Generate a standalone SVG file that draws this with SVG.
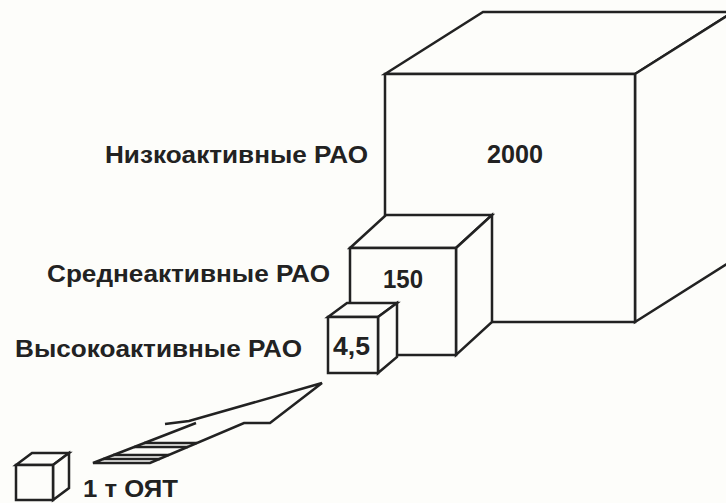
<svg xmlns="http://www.w3.org/2000/svg" width="726" height="503" viewBox="0 0 726 503">
<style>
.bg{fill:#fdfdfa}
.face{fill:#fdfdfa;stroke:#222;stroke-width:2.5;stroke-linejoin:miter}
.ln{fill:none;stroke:#222;stroke-width:2.5;stroke-linecap:butt;stroke-linejoin:miter}
.lbl{font-family:"Liberation Sans",Arial,sans-serif;font-weight:bold;font-size:23px;fill:#222}
.num{font-family:"Liberation Sans",Arial,sans-serif;font-weight:bold;font-size:25px;fill:#222}
</style>
<rect class="bg" x="0" y="0" width="726" height="503"/>
<g id="cube-low">
  <polygon class="face" points="385,74 483,12 733,12 635,74"/>
  <polygon class="face" points="635,74 733,12 733,260 635,322"/>
  <rect class="face" x="385" y="74" width="250" height="248"/>
  <text class="num" x="487" y="163" textLength="56" lengthAdjust="spacingAndGlyphs">2000</text>
</g>
<g id="cube-mid">
  <polygon class="face" points="350,248 386,215 492,215 456,248"/>
  <polygon class="face" points="456,248 492,215 492,322 456,355"/>
  <rect class="face" x="350" y="248" width="106" height="107"/>
  <text class="num" x="383" y="288" textLength="40" lengthAdjust="spacingAndGlyphs">150</text>
</g>
<g id="cube-high">
  <polygon class="face" points="328,317 347,303 397,303 378,317"/>
  <polygon class="face" points="378,317 397,303 397,357 378,373"/>
  <rect class="face" x="328" y="317" width="50" height="56"/>
  <text class="num" x="333" y="355" font-size="22" textLength="37" lengthAdjust="spacingAndGlyphs">4,5</text>
</g>
<g id="cube-oyat">
  <polygon class="face" points="16,465 32,453 69,453 53,465"/>
  <polygon class="face" points="53,465 69,453 69,488 53,500"/>
  <rect class="face" x="16" y="465" width="37" height="35"/>
  <text class="lbl" x="83" y="497" textLength="95" lengthAdjust="spacingAndGlyphs">1 т ОЯТ</text>
</g>
<g id="labels">
  <text class="lbl" x="105" y="163" textLength="263" lengthAdjust="spacingAndGlyphs">Низкоактивные РАО</text>
  <text class="lbl" x="47" y="282" textLength="283" lengthAdjust="spacingAndGlyphs">Среднеактивные РАО</text>
  <text class="lbl" x="15" y="357" textLength="287" lengthAdjust="spacingAndGlyphs">Высокоактивные РАО</text>
</g>
<g id="connectors">
  <polyline class="ln" points="165,424 189,421 322,383 270,423 244,423 150,463 93,463 196,423"/>
  <line class="ln" x1="144" y1="443" x2="197" y2="443"/>
  <line class="ln" x1="134" y1="447" x2="188" y2="447"/>
  <line class="ln" x1="113" y1="455" x2="169" y2="455"/>
  <line class="ln" x1="103" y1="459" x2="160" y2="459"/>
</g>
</svg>
